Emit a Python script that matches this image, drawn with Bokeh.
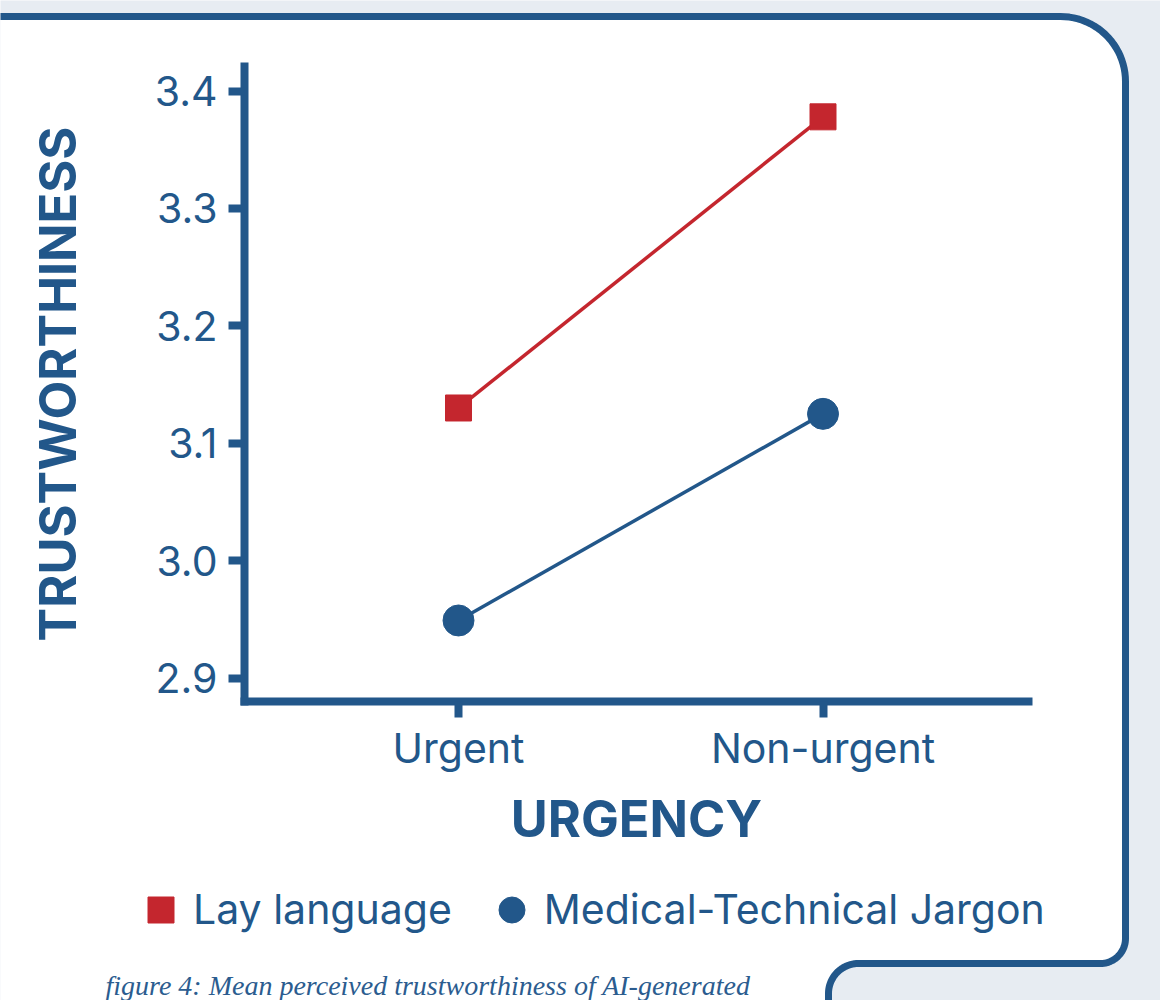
import numpy as np
from bokeh.embed import file_html
from bokeh.models import (FixedTicker, Label, Legend, LegendItem, PolyAnnotation,
                          PrintfTickFormatter, Range1d)
from bokeh.plotting import figure
from bokeh.resources import INLINE

# data
urgency = ["Urgent", "Non-urgent"]
urgency_x = [0, 1]
lay_language = [3.130, 3.378]
medical_jargon = [2.949, 3.125]
y_ticks = [2.9, 3.0, 3.1, 3.2, 3.3, 3.4]

BLUE = "#22578A"
RED = "#C4262E"
BACK = "#E7ECF2"
W, H = 1160, 1000

# the frame fills the whole canvas; the axes sit inside it at fixed spots
p = figure(width=W, height=H, output_backend="svg", toolbar_location=None,
           x_range=Range1d(-1.2565, 1.9259), y_range=Range1d(2.6253, 3.4771),
           min_border=0, background_fill_color=BACK, border_fill_color=BACK,
           outline_line_color=None)
p.grid.visible = False


# white card behind the chart, with the rounded corners and the notch
def arc(cx, cy, r, a0, a1, n=24):
    t = np.radians(np.linspace(a0, a1, n))
    return list(cx + r * np.cos(t)), list(cy + r * np.sin(t))


px, py = [-30.0], [16.0]
for cx, cy, r, a0, a1 in [(1060, 81, 65, -90, 0), (1100, 938, 25, 0, 90),
                          (858, 993, 30, -90, -180)]:
    ax_, ay_ = arc(cx, cy, r, a0, a1)
    px += ax_
    py += ay_
px += [828, -30]
py += [1100, 1100]
card = PolyAnnotation(xs=px, ys=[H - y for y in py],
                      xs_units="screen", ys_units="screen",
                      fill_color="white", fill_alpha=1.0,
                      line_color=BLUE, line_alpha=1.0, line_width=7,
                      level="underlay")
p.add_layout(card)

p.line(urgency_x, lay_language, line_color=RED, line_width=3.5)
p.line(urgency_x, medical_jargon, line_color=BLUE, line_width=3.5)
r_lay = p.scatter(urgency_x, lay_language, marker="square", size=26, color=RED)
r_med = p.scatter(urgency_x, medical_jargon, marker="circle", size=31, color=BLUE)

xaxis, yaxis = p.xaxis[0], p.yaxis[0]
xaxis.ticker = FixedTicker(ticks=urgency_x)
xaxis.major_label_overrides = dict(zip(urgency_x, urgency))
yaxis.ticker = FixedTicker(ticks=y_ticks)
yaxis.formatter = PrintfTickFormatter(format="%.1f")
xaxis.axis_label = "URGENCY"
yaxis.axis_label = "TRUSTWORTHINESS"

x_lo, x_hi = -0.5871, 1.5638
y_lo, y_hi = 2.87998, 3.4209
xaxis.fixed_location = y_lo
xaxis.bounds = (x_lo, x_hi)
yaxis.fixed_location = x_lo
yaxis.bounds = (y_lo, y_hi)

for ax in (xaxis, yaxis):
    ax.axis_line_color = BLUE
    ax.axis_line_width = 8
    ax.axis_line_cap = "square"
    ax.major_tick_line_color = BLUE
    ax.major_tick_line_width = 8
    ax.major_tick_in = 0
    ax.major_tick_out = 16
    ax.minor_tick_line_color = None
    ax.major_label_text_font = "Inter"
    ax.major_label_text_font_size = "41px"
    ax.major_label_text_color = BLUE
    ax.axis_label_text_font = "Inter"
    ax.axis_label_text_font_style = "bold"
    ax.axis_label_text_font_size = "50.5px"
    ax.axis_label_text_color = BLUE

xaxis.major_label_standoff = 5
xaxis.axis_label_standoff = 12
yaxis.major_label_standoff = 11
yaxis.axis_label_standoff = 64

legend = Legend(items=[LegendItem(label="Lay language", renderers=[r_lay]),
                       LegendItem(label="Medical-Technical Jargon", renderers=[r_med])],
                orientation="horizontal", location=(128, H - 941.5),
                glyph_width=65, glyph_height=65, label_standoff=0, spacing=27,
                padding=0, margin=0, border_line_color=None, background_fill_alpha=0,
                label_text_font="Inter", label_text_font_size="41px",
                label_text_color=BLUE)
p.add_layout(legend, "center")

caption = Label(x=105, y=H - 985, x_units="screen", y_units="screen",
                text="figure 4: Mean perceived trustworthiness of AI-generated",
                text_font="Liberation Serif", text_font_style="italic",
                text_font_size="28px", text_color="#2B5C8F",
                text_baseline="alphabetic")
p.add_layout(caption)

open("out.html", "w").write(file_html(p, INLINE))
